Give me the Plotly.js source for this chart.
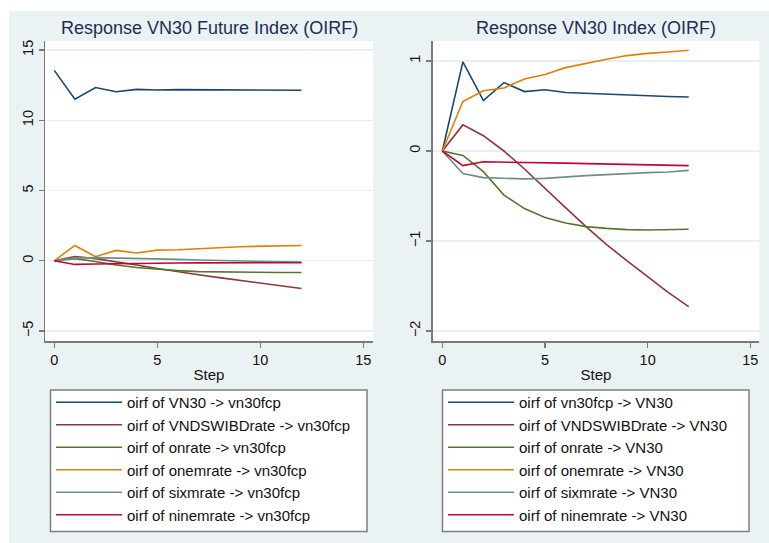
<!DOCTYPE html>
<html>
<head>
<meta charset="utf-8">
<script src="https://cdn.plot.ly/plotly-3.0.1.min.js"></script>
<style>html,body{margin:0;padding:0;background:#fff;}#chart{width:769px;height:543px;}</style>
</head>
<body>
<div id="chart"></div>
<script>
const steps = [0,1,2,3,4,5,6,7,8,9,10,11,12];

// Left panel: Response VN30 Future Index (OIRF)
const futLabels = [
  "oirf of VN30 -> vn30fcp",
  "oirf of VNDSWIBDrate -> vn30fcp",
  "oirf of onrate -> vn30fcp",
  "oirf of onemrate -> vn30fcp",
  "oirf of sixmrate -> vn30fcp",
  "oirf of ninemrate -> vn30fcp"
];
const futVN30      = [13.55, 11.5, 12.33, 12.03, 12.2, 12.15, 12.18, 12.17, 12.17, 12.16, 12.16, 12.15, 12.14];
const futVNDSWIBD  = [0, 0.3, 0.15, -0.05, -0.3, -0.55, -0.8, -1.0, -1.2, -1.4, -1.6, -1.77, -1.97];
const futOnrate    = [0, 0.15, -0.05, -0.3, -0.48, -0.6, -0.7, -0.77, -0.8, -0.83, -0.84, -0.84, -0.83];
const futOnemrate  = [0, 1.09, 0.29, 0.74, 0.55, 0.76, 0.78, 0.88, 0.93, 1.0, 1.04, 1.07, 1.09];
const futSixmrate  = [0, 0.2, 0.22, 0.2, 0.17, 0.14, 0.1, 0.05, 0.01, -0.03, -0.06, -0.08, -0.1];
const futNinemrate = [0, -0.26, -0.23, -0.2, -0.18, -0.17, -0.16, -0.15, -0.15, -0.15, -0.15, -0.14, -0.14];

// Right panel: Response VN30 Index (OIRF)
const idxLabels = [
  "oirf of vn30fcp -> VN30",
  "oirf of VNDSWIBDrate -> VN30",
  "oirf of onrate -> VN30",
  "oirf of onemrate -> VN30",
  "oirf of sixmrate -> VN30",
  "oirf of ninemrate -> VN30"
];
const idxVN30fcp   = [0, 0.99, 0.56, 0.76, 0.66, 0.68, 0.65, 0.64, 0.63, 0.62, 0.61, 0.605, 0.6];
const idxVNDSWIBD  = [0, 0.29, 0.17, 0.0, -0.2, -0.42, -0.63, -0.84, -1.04, -1.22, -1.4, -1.57, -1.73];
const idxOnrate    = [0, -0.05, -0.23, -0.49, -0.64, -0.74, -0.8, -0.84, -0.86, -0.874, -0.878, -0.874, -0.87];
const idxOnemrate  = [0, 0.55, 0.67, 0.7, 0.8, 0.85, 0.926, 0.974, 1.02, 1.06, 1.085, 1.1, 1.12];
const idxSixmrate  = [0, -0.25, -0.296, -0.307, -0.31, -0.304, -0.285, -0.274, -0.263, -0.25, -0.24, -0.233, -0.215];
const idxNinemrate = [0, -0.163, -0.12, -0.122, -0.126, -0.13, -0.135, -0.14, -0.145, -0.15, -0.155, -0.158, -0.163];

const colors = ["#1a476f", "#90353b", "#55752f", "#e37e00", "#6e8e84", "#c10534"];

const futSeries = [futVN30, futVNDSWIBD, futOnrate, futOnemrate, futSixmrate, futNinemrate];
const idxSeries = [idxVN30fcp, idxVNDSWIBD, idxOnrate, idxOnemrate, idxSixmrate, idxNinemrate];

const W = 769, H = 543;
const px = v => v / W, py = v => 1 - v / H;

const traces = [];
futSeries.forEach((s, i) => traces.push({
  x: steps, y: s, type: "scatter", mode: "lines", name: futLabels[i],
  line: {color: colors[i], width: 1.6}, xaxis: "x", yaxis: "y", legend: "legend"
}));
idxSeries.forEach((s, i) => traces.push({
  x: steps, y: s, type: "scatter", mode: "lines", name: idxLabels[i],
  line: {color: colors[i], width: 1.6}, xaxis: "x2", yaxis: "y2", legend: "legend2"
}));

const axisCommon = {
  showline: true, linecolor: "#7a7a7a", linewidth: 1.5,
  ticks: "outside", ticklen: 5, tickcolor: "#7a7a7a", tickwidth: 1.3,
  zeroline: false, automargin: false,
  tickfont: {family: "Liberation Sans, Arial, sans-serif", size: 14.5, color: "#111"}
};
const xCommon = Object.assign({}, axisCommon, {
  showgrid: false, tickvals: [0,5,10,15],
  title: {text: "Step", font: {family: "Liberation Sans, Arial, sans-serif", size: 15, color: "#111"}, standoff: 2}
});
const yCommon = Object.assign({}, axisCommon, {
  showgrid: true, gridcolor: "#e6eff1", gridwidth: 1.2, tickangle: -90
});

const legendFont = {family: "Liberation Sans, Arial, sans-serif", size: 15, color: "#111"};

const layout = {
  width: W, height: H,
  margin: {l: 0, r: 0, t: 0, b: 0},
  paper_bgcolor: "#eaf2f3",
  plot_bgcolor: "#ffffff",
  showlegend: true,
  xaxis: Object.assign({}, xCommon, {domain: [px(45), px(373)], range: [-0.45, 15.47], anchor: "y"}),
  yaxis: Object.assign({}, yCommon, {domain: [py(341), py(41)], range: [-5.71, 15.64], tickvals: [-5,0,5,10,15], anchor: "x"}),
  xaxis2: Object.assign({}, xCommon, {domain: [px(432.7), px(759.3)], range: [-0.47, 15.44], anchor: "y2"}),
  yaxis2: Object.assign({}, yCommon, {domain: [py(341), py(41)], range: [-2.111, 1.222], tickvals: [-2,-1,0,1], anchor: "x2"}),
  legend: {x: px(51), y: py(386), xanchor: "left", yanchor: "top", bgcolor: "rgba(0,0,0,0)", borderwidth: 0,
           font: legendFont, itemwidth: 66, tracegroupgap: 0},
  legend2: {x: px(443), y: py(386), xanchor: "left", yanchor: "top", bgcolor: "rgba(0,0,0,0)", borderwidth: 0,
           font: legendFont, itemwidth: 66, tracegroupgap: 0},
  shapes: [
    {type: "rect", xref: "paper", yref: "paper", x0: 0, x1: 1, y0: py(11), y1: 1, fillcolor: "#ffffff", line: {width: 0}, layer: "below"},
    {type: "rect", xref: "paper", yref: "paper", x0: 0, x1: px(9), y0: 0, y1: 1, fillcolor: "#ffffff", line: {width: 0}, layer: "below"},
    {type: "rect", xref: "paper", yref: "paper", x0: px(50.5), x1: px(367), y0: py(531.5), y1: py(390), fillcolor: "#ffffff", line: {color: "#808080", width: 1.5}, layer: "below"},
    {type: "rect", xref: "paper", yref: "paper", x0: px(442.5), x1: px(749), y0: py(531.5), y1: py(390), fillcolor: "#ffffff", line: {color: "#808080", width: 1.5}, layer: "below"}
  ],
  annotations: [
    {text: "Response VN30 Future Index (OIRF)", xref: "paper", yref: "paper", x: px(209), y: py(28), xanchor: "center", yanchor: "middle", showarrow: false,
     font: {family: "Liberation Sans, Arial, sans-serif", size: 18, color: "#1e2d53"}},
    {text: "Response VN30 Index (OIRF)", xref: "paper", yref: "paper", x: px(596), y: py(28), xanchor: "center", yanchor: "middle", showarrow: false,
     font: {family: "Liberation Sans, Arial, sans-serif", size: 18, color: "#1e2d53"}}
  ]
};

Plotly.newPlot("chart", traces, layout, {staticPlot: true, displayModeBar: false});
</script>
</body>
</html>
